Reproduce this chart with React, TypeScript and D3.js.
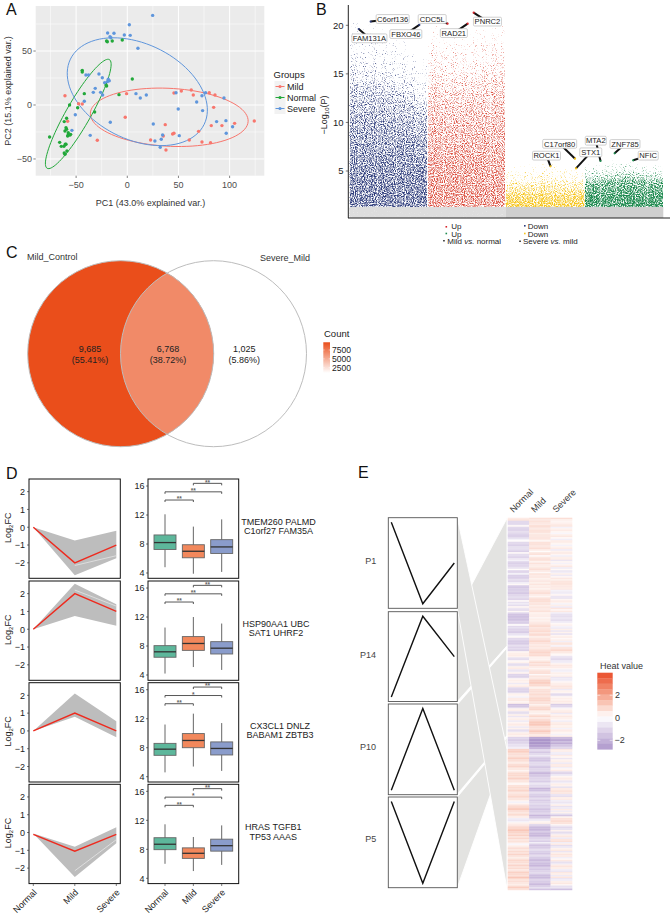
import React from "react";
import * as d3 from "d3";

const FONT = "'Liberation Sans', Arial, sans-serif";

/* ---------- A: PCA ---------- */
const pcaMild: number[][] = [[-60.9,8.6],[-58.3,-15.1],[-47.6,1.2],[-44,0.9],[-29.3,-32.7],[-2,-11.4],[-0.7,10.5],[22.8,-32.4],[35.2,-28.7],[37.1,-18.2],[44.3,-26.9],[45.6,-26.2],[45.6,11.1],[52.8,13],[60.6,-32.4],[62.5,13.9],[64.5,9.3],[69.7,-24.4],[73,-34.3],[80.1,11.4],[81.4,-34.9],[82.1,-19.1],[84.4,-2.2],[85.7,9.3],[92.5,-19.1],[104.9,-17],[124.1,-14.8],[37.8,-41.7]];
const pcaNormal: number[][] = [[-75.9,-29.6],[-66.1,-34.6],[-64.5,-38.3],[-61.9,-38.3],[-60.6,-36.4],[-59.9,-36.4],[-61.6,-44.4],[-60.9,-45.7],[-59,-42.6],[-61.6,-15.4],[-59.3,-12.3],[-59.9,-21],[-59.3,-22.5],[-60.9,-24.1],[-57.7,-25.6],[-57.7,-27.8],[-56,-27.8],[-58.3,-28.7],[-55.4,-27.2],[-56.4,0],[-48.5,-2.5],[-42,10.5],[-44,32.1],[-44,30.6],[-31.9,-6.5],[-20.2,17.6],[-20.2,59.3],[-19.5,58.6],[-14.7,59.3],[-4.9,60.2],[4.9,24.1],[-8.1,9.6],[-20.8,18.5]];
const pcaSevere: number[][] = [[24.8,83],[2,74.4],[-19.2,66.7],[-13,66.4],[-16.9,63.3],[-16,62.3],[-2.9,64.8],[2.9,64.5],[10.4,52.5],[-27.7,28.7],[-24.4,25.3],[-40.4,27.8],[-37.8,27.8],[-22.1,20.7],[-19.5,21.6],[-17.6,22.5],[-18.6,23.8],[-31.3,15.4],[-33.2,11.7],[-26.1,11.7],[-24.1,9.3],[-42,3.4],[-50.8,-9],[-54.1,-23.5],[-36.2,-28.1],[-16.6,-16],[8.5,10.5],[12.7,6.5],[18.6,9.3],[25.4,-17.6],[27,-33.3],[33.2,-31.8],[32.2,-39.2],[34.5,-27.8],[47.6,11.4],[49.8,-3.7],[50.8,-28.4],[67.8,2.8],[73.6,-5.2],[73,8.6],[76.5,11.4],[94.5,6.5],[87.3,-15.4],[96.4,-14.5],[96.7,-26.2],[102.9,-20.1]];
const pcaGroups = ["Mild", "Normal", "Severe"];
const pcaColors = ["#F8766D", "#22A83A", "#5F96DC"];
const pcaPoints = [pcaMild, pcaNormal, pcaSevere];
// centre x, centre y, semi-major, semi-minor, tilt (degrees)
const pcaEllipses = [[41, -11.4, 77.2, 28.3, 3], [-47.9, -8.3, 61.2, 11.9, -60.2], [9.8, 12.3, 72.7, 46.7, 26]];
const pcaXTicks = [-50, 0, 50, 100];
const pcaXMinor = [-75, -25, 25, 75, 125];
const pcaYTicks = [-50, 0, 50];
const pcaYMinor = [-25, 25, 75];

/* ---------- B: speckled significance strip ---------- */
const stripNames = ["blue", "red", "yellow", "green"];
const stripColors = ["#2F3D7C", "#DB4A3A", "#F6C51B", "#1E8A4F"];
// column edges along the x position and how tall each column's cloud is
const stripCols: number[][] = [
  [0, 3, 6, 9, 12, 15, 18, 21, 24.9],
  [24.9, 30, 35, 40, 45, 49.7],
  [49.7, 55, 60, 65, 70, 75],
  [75, 80, 85, 90, 95, 100],
];
const stripHeights: number[][] = [
  [1.02, 1.0, 1.02, 0.98, 0.96, 0.94, 0.9, 0.82],
  [1.0, 0.97, 0.98, 1.0, 1.02],
  [0.95, 1.0, 1.02, 1.0, 0.96],
  [0.94, 1.0, 1.02, 1.0, 0.96],
];
// [-log10 P, speckle density]
const stripDensity: number[][][] = [
  [[1.3, 0.68], [5, 0.66], [10, 0.6], [13, 0.54], [14.5, 0.47], [16, 0.41], [18, 0.35], [20, 0.27]],
  [[1.3, 0.64], [5, 0.62], [10, 0.57], [13, 0.52], [15, 0.46], [17, 0.39], [19, 0.33], [20, 0.26]],
  [[1.3, 0.72], [2.5, 0.65], [3.5, 0.54], [4.5, 0.42], [5.2, 0.35], [6, 0.22]],
  [[1.3, 0.76], [3, 0.7], [4, 0.63], [4.6, 0.5], [5.4, 0.38], [6.2, 0.22]],
];
const stripLabels = [
  { t: "FAM131A", px: 3, py: 19.62, lx: 6.4, ly: 18.66, w: 35, c: "#2F3D7C" },
  { t: "C6orf136", px: 6.8, py: 20.38, lx: 13.8, ly: 20.65, w: 33, c: "#2F3D7C" },
  { t: "FBXO46", px: 22.3, py: 20.04, lx: 18, ly: 19.1, w: 32, c: "#2F3D7C" },
  { t: "CDC5L", px: 31.3, py: 20.17, lx: 26.4, ly: 20.65, w: 28, c: "#D8232A" },
  { t: "RAD21", px: 37.7, py: 20.17, lx: 33.3, ly: 19.2, w: 27, c: "#D8232A" },
  { t: "PNRC2", px: 39.6, py: 21.3, lx: 44, ly: 20.38, w: 28, c: "#D8232A" },
  { t: "C17orf80", px: 71.9, py: 6.27, lx: 67, ly: 7.8, w: 34, c: "#F6C51B" },
  { t: "ROCK1", px: 64.1, py: 5.48, lx: 62.8, ly: 6.58, w: 28, c: "#F6C51B" },
  { t: "STX1", px: 72.2, py: 5.27, lx: 76.9, ly: 6.92, w: 22, c: "#F6C51B" },
  { t: "MTA2", px: 80, py: 6.03, lx: 78.5, ly: 8.12, w: 21, c: "#1E8A4F" },
  { t: "ZNF785", px: 84.5, py: 6.82, lx: 87.8, ly: 7.78, w: 30, c: "#1E8A4F" },
  { t: "NFIC", px: 90.4, py: 6.1, lx: 95.2, ly: 6.58, w: 20, c: "#1E8A4F" },
];
const stripYTicks = [5, 10, 15, 20];

/* ---------- C: Venn ---------- */
const vennCounts = ["9,685", "6,768", "1,025"];
const vennPercents = ["(55.41%)", "(38.72%)", "(5.86%)"];
const vennValues = [9685, 6768, 1025];
const vennNames = ["Mild_Control", "Severe_Mild"];
const countTicks = [7500, 5000, 2500];

/* ---------- D: trend and box panels ---------- */
const stageNames = ["Normal", "Mild", "Severe"];
const trendUpper = [[0, -0.75, -0.2], [0, 2.55, 1.4], [0, 2.1, 0.55], [-0.05, -0.8, 0.3]];
const trendLower = [[0, -2.7, -1.75], [0, 0.75, 0.2], [0, 0.8, -0.35], [-0.05, -2.5, -0.6]];
const trendMain = [[0, -2, -1], [0, 2, 1], [0, 1, 0], [-0.1, -1.05, -0.1]];
const trendPale = [[-2.15, -1.6], [2.2, 1.3], null, [-2.15, -0.4]];
const trendTicks = [2, 1, 0, -1, -2];
// whisker low, q1, median, q3, whisker high
const boxStats = [
  [[4.8, 7.25, 8.2, 9.25, 12.1], [3.9, 6.1, 7, 7.9, 10.4], [4.15, 6.7, 7.6, 8.6, 11.4]],
  [[4.2, 6.45, 7.2, 8.05, 10.55], [5.1, 7.4, 8.35, 9.3, 12], [4.7, 6.9, 7.7, 8.6, 11.1]],
  [[4.6, 6.95, 7.8, 8.6, 11.2], [5.4, 8, 9, 9.95, 12.7], [4.8, 7, 7.9, 8.8, 11.4]],
  [[6, 7.95, 8.7, 9.6, 11.45], [5, 6.75, 7.45, 8.2, 9.7], [5.85, 7.75, 8.5, 9.4, 11.3]],
];
const boxColors = ["#5DB79B", "#F2885C", "#8A9CCB"];
const boxTicks = [16, 12, 8, 4];
const bracketLevels = [14.07, 15.2, 16.37];
const bracketMarks = [["**", "**", "**"], ["**", "**", "**"], ["**", "*", "**"], ["**", "*", "**"]];
const geneLines = [
  ["TMEM260 PALMD", "C1orf27 FAM35A"],
  ["HSP90AA1 UBC", "SAT1 UHRF2"],
  ["CX3CL1 DNLZ", "BABAM1 ZBTB3"],
  ["HRAS TGFB1", "TP53 AAAS"],
];
const geneCentres = [278.5, 276, 280, 273.3];

/* ---------- E: patterns and heat map ---------- */
const patternNames = ["P1", "P14", "P10", "P5"];
const patternValues = [[1, 0, 0.5], [0, 1, 0.5], [0, 1, 0], [1, 0, 1]];
const hN14 = [0.6,0.9,-0.9,-1.0,-0.8,0.2,-0.9,-1.1,-1.0,-0.8,-0.9,-1.2,-1.1,-0.9,-0.3,0.1,-0.9,-1.0,-1.1,-0.8,
  -0.7,-0.9,-1.1,0.2,-0.8,-0.9,-1.0,-0.6,-0.3,-1.0,-1.1,-1.0,-0.9,-0.7,0.1,-1.0,-0.9,-0.3,-1.1,-1.2,
  -1.0,-0.8,-0.9,-0.4,0.2,-1.2,-1.3,-1.2,-1.1,-1.2,-1.3,-1.0,-0.8,-0.9,-1.0,0.2,-0.7,-0.5,-0.8,0.3,
  -0.6,-0.9,0.2,-0.9,-1.4,-1.5,-1.4,-1.5,-1.3,-1.2,-1.0,0.1,-0.9,-0.8,-1.0,-1.1,-1.2,-0.7,-0.4,0.2,
  -0.9,-1.0,-1.2,-1.3,-1.0,-0.8];
const hM14 = [0.9,0.7,0.9,0.8,0.6,1.1,0.8,0.7,0.9,1.0,0.5,0.8,0.7,0.9,0.6,0.3,0.9,1.0,0.7,0.8,
  1.0,0.6,0.1,0.8,0.9,0.2,0.7,1.0,0.8,0.4,0.9,0.6,0.5,0.8,1.0,0.7,0.2,0.9,0.6,0.8,
  0.4,0.6,0.7,0.5,0.8,0.5,0.6,0.4,0.7,0.9,1.0,0.6,0.3,0.8,1.0,1.1,0.7,0.9,0.5,0.8,
  0.6,0.7,0.9,0.4,0.5,0.6,0.3,0.5,0.4,0.6,0.7,1.0,1.1,0.8,0.9,1.2,0.7,1.1,1.0,0.5,
  0.8,1.0,1.2,0.9,0.6,0.8];
const hS14 = [1.0,0.5,0.3,0.4,0.6,0.8,-0.3,0.4,0.6,0.3,-0.2,0.5,0.7,0.2,-0.4,0.6,0.5,0.3,-0.3,0.4,
  0.6,-0.5,0.4,0.7,0.3,-0.4,0.5,0.6,-0.6,0.3,-0.3,0.4,0.7,-0.5,0.2,-0.6,-0.4,0.5,-0.5,0.3,
  0.7,0.5,0.8,0.9,0.8,0.7,0.6,0.7,-0.3,-0.5,-0.4,0.3,-0.6,-0.7,0.3,0.6,0.4,-0.3,0.5,-0.5,
  0.8,0.3,0.7,-0.4,-0.7,-0.8,-0.6,-0.7,-0.8,-0.5,0.2,0.4,-0.3,-0.5,0.5,-0.6,0.4,-0.7,0.3,0.6,
  0.2,0.5,-0.4,0.8,0.7,-0.3];
const hN10 = [-1.0,-0.9,-1.1,0.3,0.5,0.6,0.4,-0.7,-0.8,0.2,0.4,-0.8,-0.7,0.5,0.6,-0.6,-0.5,0.4,
  -1.0,-1.1,-0.9,0.3,0.5,0.4,-0.5,0.4,0.6,-0.9,-1.0,-1.1,-0.8,0.4,0.3,-0.3,0.6,0.7,0.3,0.5,
  -1.5,-1.4,-0.9,0.4,0.5,-0.8,-0.7,0.5,-0.6,0.4,0.5,-0.5,0.3,0.6,0.5,-0.5,0.4,-0.8,-0.6,0.5,0.6,0.4];
const hM10 = [0.6,0.8,1.0,1.3,1.0,1.2,0.6,0.4,0.3,0.7,1.1,0.8,1.0,0.6,0.3,0.7,0.9,1.1,
  0.2,0.8,0.6,0.9,1.3,1.5,1.4,1.2,0.7,0.4,0.9,1.0,0.8,1.1,0.9,1.0,1.2,1.3,0.9,1.0,
  0.4,0.8,1.1,1.3,0.7,0.5,0.3,0.9,1.2,0.6,1.0,1.3,1.6,1.7,1.4,1.0,0.8,1.3,1.6,1.1,0.6,0.8];
const hS10 = [0.8,1.0,1.2,0.7,0.4,0.2,-0.6,-0.8,-0.9,-0.5,-0.4,0.4,0.7,0.6,0.3,-0.4,-0.3,0.5,
  0.3,0.5,-0.6,-0.5,-0.4,0.3,0.5,0.6,0.8,0.7,-0.5,0.4,0.3,-0.9,-0.7,0.3,0.5,0.4,0.6,0.5,
  -1.2,-1.0,-0.5,0.3,0.5,0.7,-0.5,0.4,0.7,0.5,0.3,-0.4,0.5,0.7,0.4,0.5,-0.3,0.6,0.5,0.3,-0.3,0.5];
const hN5 = [-1.0,-1.1,-1.2,-1.0,-0.9,-0.7,-0.6,-0.4];
const hM5 = [-2.0,-2.3,-2.4,-2.3,-2.4,-2.2,-2.1,-1.8];
const hS5 = [-1.6,-1.9,-2.0,-1.6,-1.9,-1.4,-1.2,-1.0];
const hN1 = [1.3,1.5,1.2,1.0,0.8,1.1,1.4,1.0,0.8,0.6,1.0,1.3,0.9,0.7,0.3,0.8,1.1,1.2,0.9,1.4,
  1.0,0.8,0.5,0.2,0.9,1.1,0.9,1.3,1.0,0.7,0.9,1.2,1.0,0.8,0.4,-0.3,0.3,0.9,1.1,1.5,
  1.6,1.0,0.7,1.1,0.9,0.5,-0.4,-0.6,-0.3,0.4,0.6,1.0,1.2,1.5,1.7,1.3,1.0,1.4,0.8,1.2,
  0.7,0.9,0.6,-0.2,0.4,0.8,1.0,0.7,1.1,0.9,1.3,0.8,0.5,0.9,1.2,1.0,0.7,1.3,0.9,1.1,
  0.6,1.0,1.4,1.1,0.9,1.7,1.2,0.8,1.0,0.7,0.5,1.1,1.5,0.9];
const hM1 = [-0.9,-1.0,-1.3,-0.9,-0.5,-1.0,-1.3,-1.4,-1.1,-0.9,-0.8,-1.2,-1.3,-1.0,-0.9,-1.5,-1.7,-1.3,-1.2,-1.0,
  -0.9,-1.2,-0.8,-0.6,-0.9,-1.0,-1.7,-1.5,-1.0,-0.8,-1.1,-1.3,-1.0,-0.9,-1.2,-1.0,-0.8,-1.1,-1.0,-1.2,
  -1.4,-1.2,-1.0,-1.1,-1.7,-1.3,-0.9,-0.5,0.3,0.5,-0.9,-1.3,-1.6,-1.7,-1.5,-1.3,-1.6,-1.7,-1.4,-1.0,
  -0.8,-1.2,-0.4,-1.1,-1.4,-1.2,-1.0,-0.8,-1.1,-1.3,-1.0,-0.9,-1.2,-1.5,-1.6,-1.3,-1.5,-1.7,-1.4,-1.1,
  -1.3,-1.0,-0.8,-1.2,-1.5,-1.6,-1.3,-1.0,-1.2,-1.4,-1.6,-1.1,-0.7,-1.4];
const hS1 = [0.7,0.5,-0.4,-0.5,0.6,0.3,-0.6,0.4,0.5,-0.5,0.6,0.7,-0.4,0.3,0.6,-0.9,-1.0,-0.5,0.3,0.6,
  0.5,-0.6,-0.4,0.5,0.4,-0.7,0.6,0.8,0.9,0.7,-0.6,-0.8,0.5,0.6,-0.4,-0.6,-0.4,0.5,-0.7,-0.5,
  0.6,-0.5,0.4,-0.8,-1.3,0.4,0.9,1.0,1.1,0.9,0.3,-0.6,-0.9,-0.7,0.4,-0.8,-0.6,0.5,0.7,-0.5,
  0.8,1.0,-0.4,0.6,-0.8,-0.5,0.4,0.7,-0.6,0.5,0.8,0.6,-0.4,0.3,0.7,-0.7,-0.5,0.6,0.8,0.5,
  -0.4,-0.6,0.7,0.5,-0.5,0.8,-0.6,-0.4,0.5,0.7,0.3,-0.7,-0.6,-1.5];
const heatNormal = [hN14, hN10, hN5, hN1];
const heatMild = [hM14, hM10, hM5, hM1];
const heatSevere = [hS14, hS10, hS5, hS1];
const heatLegendSteps = [3.8,3.3,2.8,2.3,1.8,1.3,0.8,0.3,-0.2,-0.7,-1.2,-1.7,-2.2,-2.6];
const heatTicks = [2, 0, -2];
// which heat block each pattern box feeds
const patternToBlock = [3, 0, 1, 2];

const T = (p: any) => <text fontFamily={FONT} fill="#222" {...p} />;

function ellipsePath(e: number[], x: any, y: any) {
  const [cx, cy, a, b, deg] = e;
  const unit = x(1) - x(0);
  const t = (deg * Math.PI) / 180;
  const pts: [number, number][] = d3.range(0, 361, 4).map((d) => {
    const r = (d * Math.PI) / 180;
    const u = a * unit * Math.cos(r);
    const v = b * unit * Math.sin(r);
    return [x(cx) + u * Math.cos(t) - v * Math.sin(t), y(cy) + u * Math.sin(t) + v * Math.cos(t)];
  });
  return d3.line()(pts) as string;
}

function PanelA() {
  const x = d3.scaleLinear().domain([-89.5, 133.9]).range([35.7, 264.3]);
  const y = d3.scaleLinear().domain([-65.5, 91.7]).range([175.7, 6]);
  return (
    <g>
      <rect x={35.7} y={6} width={228.6} height={169.7} fill="#EBEBEB" />
      {pcaXMinor.filter((d) => x(d) < 264).map((d) => <line key={d} x1={x(d)} x2={x(d)} y1={6} y2={175.7} stroke="#fff" strokeWidth={0.5} />)}
      {pcaYMinor.map((d) => <line key={d} y1={y(d)} y2={y(d)} x1={35.7} x2={264.3} stroke="#fff" strokeWidth={0.5} />)}
      {pcaXTicks.map((d) => <line key={d} x1={x(d)} x2={x(d)} y1={6} y2={175.7} stroke="#fff" strokeWidth={1} />)}
      {pcaYTicks.map((d) => <line key={d} y1={y(d)} y2={y(d)} x1={35.7} x2={264.3} stroke="#fff" strokeWidth={1} />)}
      {pcaEllipses.map((e, i) => <path key={i} d={ellipsePath(e, x, y)} fill="none" stroke={pcaColors[i]} strokeWidth={1} />)}
      {pcaPoints.map((ps, i) => ps.map((p, j) => <circle key={i + "-" + j} cx={x(p[0])} cy={y(p[1])} r={1.7} fill={pcaColors[i]} />))}
      {pcaXTicks.map((d) => (
        <g key={d}>
          <line x1={x(d)} x2={x(d)} y1={175.7} y2={178} stroke="#333" strokeWidth={0.6} />
          <T x={x(d)} y={188} fontSize={9} textAnchor="middle" fill="#4d4d4d">{d < 0 ? "\u2212" + -d : d}</T>
        </g>
      ))}
      {pcaYTicks.map((d) => (
        <g key={d}>
          <line x1={33.4} x2={35.7} y1={y(d)} y2={y(d)} stroke="#333" strokeWidth={0.6} />
          <T x={32} y={y(d) + 3.2} fontSize={9} textAnchor="end" fill="#4d4d4d">{d < 0 ? "\u2212" + -d : d}</T>
        </g>
      ))}
      <T x={150.5} y={205.5} fontSize={9} textAnchor="middle" fill="#333">PC1 (43.0% explained var.)</T>
      <T transform="translate(11,91) rotate(-90)" fontSize={9} textAnchor="middle" fill="#333">PC2 (15.1% explained var.)</T>
      <T x={273.5} y={78} fontSize={9.5} fill="#222">Groups</T>
      {pcaGroups.map((g, i) => (
        <g key={g}>
          <rect x={274.5} y={81 + i * 11} width={11} height={11} fill="#F2F2F2" />
          <line x1={275.5} x2={284.5} y1={86.5 + i * 11} y2={86.5 + i * 11} stroke={pcaColors[i]} strokeWidth={1} />
          <circle cx={280} cy={86.5 + i * 11} r={1.6} fill={pcaColors[i]} />
          <T x={287} y={89.6 + i * 11} fontSize={9} fill="#222">{g}</T>
        </g>
      ))}
    </g>
  );
}

function speckFilter(id: string, color: string, seed: number, y0: number, h: number, slope: number) {
  return (
    <filter key={id} id={id} filterUnits="userSpaceOnUse" x={340} y={y0} width={330} height={h} colorInterpolationFilters="sRGB">
      <feTurbulence type="fractalNoise" baseFrequency={0.9} numOctaves={2} seed={seed} result="n" />
      <feColorMatrix in="n" type="matrix" values="0 0 0 0 0  0 0 0 0 0  0 0 0 0 0  1 0 0 0 0" result="na" />
      <feComposite in="SourceAlpha" in2="na" operator="arithmetic" k1={0} k2={1} k3={1} k4={-1} result="sum" />
      <feComponentTransfer in="sum" result="th"><feFuncA type="linear" slope={slope} /></feComponentTransfer>
      <feFlood floodColor={color} result="fl" />
      <feComposite in="fl" in2="th" operator="in" />
    </filter>
  );
}

function PanelB() {
  const x = d3.scaleLinear().domain([0, 100]).range([349.3, 663.3]);
  const y = d3.scaleLinear().domain([5, 20]).range([171, 25.3]);
  const baseY = 218;
  const floorY = y(1.3);
  return (
    <g>
      <defs>
        {stripNames.map((n, i) => speckFilter("speck-" + n, stripColors[i], 3 + i * 7, 10, 210, 3))}
        {speckFilter("speck-grey", "#CFCFCF", 11, 200, 20, 3)}
        {stripHeights.map((hs, i) => hs.map((h, k) => {
          const stops = stripDensity[i];
          const lo = stops[0][0];
          const hi = stops[stops.length - 1][0];
          return (
            <linearGradient key={i + "-" + k} id={`grad-${i}-${k}`} gradientUnits="userSpaceOnUse" x1={0} x2={0} y1={y(lo)} y2={y(lo + (hi - lo) * h)}>
              {stops.map((s) => <stop key={s[0]} offset={(s[0] - lo) / (hi - lo)} stopColor="#000" stopOpacity={s[1]} />)}
            </linearGradient>
          );
        }))}
      </defs>
      {stripNames.map((n, i) => {
        const stops = stripDensity[i];
        const lo = stops[0][0];
        const hi = stops[stops.length - 1][0];
        return (
          <g key={n} filter={`url(#speck-${n})`}>
            {stripHeights[i].map((h, k) => {
              const x0 = x(stripCols[i][k]);
              const x1 = x(stripCols[i][k + 1]);
              const top = y(lo + (hi - lo) * h);
              return <rect key={k} x={x0} width={x1 - x0} y={top} height={floorY - top} fill={`url(#grad-${i}-${k})`} />;
            })}
          </g>
        );
      })}
      <rect x={x(0)} y={floorY} width={x(49.7) - x(0)} height={baseY - floorY} fill="#EFEFEF" />
      <rect x={x(0)} y={floorY} width={x(49.7) - x(0)} height={baseY - floorY} fill="#000" opacity={0.55} filter="url(#speck-grey)" />
      <rect x={x(49.7)} y={floorY} width={x(100) - x(49.7)} height={baseY - floorY} fill="#CFCFCF" />
      <line x1={348.3} x2={348.3} y1={5} y2={baseY} stroke="#222" strokeWidth={1} />
      <line x1={348} x2={670} y1={baseY} y2={baseY} stroke="#222" strokeWidth={1} />
      {stripYTicks.map((d) => (
        <g key={d}>
          <line x1={345.8} x2={348.3} y1={y(d)} y2={y(d)} stroke="#222" strokeWidth={0.6} />
          <T x={343.5} y={y(d) + 3.3} fontSize={9.5} textAnchor="end">{d}</T>
        </g>
      ))}
      <T transform="translate(327,115) rotate(-90)" fontSize={9} textAnchor="middle">
        {"\u2212Log"}<tspan fontSize={6} dy={1.5}>10</tspan><tspan dy={-1.5}>(P)</tspan>
      </T>
      {stripLabels.map((l) => (
        <line key={l.t} x1={x(l.lx)} y1={y(l.ly)} x2={x(l.px)} y2={y(l.py)} stroke="#111" strokeWidth={2} />
      ))}
      {stripLabels.map((l) => <circle key={l.t} cx={x(l.px)} cy={y(l.py)} r={1.1} fill={l.c} />)}
      {stripLabels.map((l) => (
        <g key={l.t}>
          <rect x={x(l.lx) - l.w / 2} y={y(l.ly) - 4.4} width={l.w} height={8.8} rx={1.2} fill="#fff" stroke="#BBB" strokeWidth={0.7} />
          <T x={x(l.lx)} y={y(l.ly) + 2.8} fontSize={7.6} textAnchor="middle" fill="#222">{l.t}</T>
        </g>
      ))}
      <rect x={445.5} y={226} width={1.6} height={1.6} fill="#D8232A" />
      <T x={451.3} y={229} fontSize={8}>Up</T>
      <rect x={445.5} y={232.7} width={1.6} height={1.6} fill="#1E8A4F" />
      <T x={451.3} y={236.6} fontSize={8}>Up</T>
      <rect x={443.2} y={240} width={1.5} height={1.5} fill="#222" />
      <T x={447.3} y={244.2} fontSize={8}>Mild <tspan fontStyle="italic">vs.</tspan> normal</T>
      <rect x={524} y={225} width={1.6} height={1.6} fill="#2F3D7C" />
      <T x={527.7} y={229} fontSize={8}>Down</T>
      <rect x={524} y={232.7} width={1.6} height={1.6} fill="#F6C51B" />
      <T x={527.7} y={236.6} fontSize={8}>Down</T>
      <rect x={519.3} y={240.5} width={1.5} height={1.5} fill="#222" />
      <T x={523} y={244.2} fontSize={8}>Severe <tspan fontStyle="italic">vs.</tspan> mild</T>
    </g>
  );
}

function PanelC() {
  const count = d3.scaleLinear<string>().domain([1025, 9685]).range(["#FFFFFF", "#EA4E1B"]);
  const barY = d3.scaleLinear().domain([2500, 7500]).range([367.7, 350]);
  const r = 93;
  const cy = 353.7;
  const cx = [120.7, 213.5];
  const labelX = [90, 168, 244.3];
  return (
    <g>
      <defs>
        <clipPath id="venn-left"><circle cx={cx[0]} cy={cy} r={r} /></clipPath>
        <linearGradient id="count-grad" x1={0} x2={0} y1={0} y2={1}>
          <stop offset={0} stopColor={count(9685)} />
          <stop offset={1} stopColor={count(1025)} />
        </linearGradient>
      </defs>
      <circle cx={cx[0]} cy={cy} r={r} fill={count(vennValues[0])} />
      <circle cx={cx[1]} cy={cy} r={r} fill={count(vennValues[1])} clipPath="url(#venn-left)" />
      <circle cx={cx[0]} cy={cy} r={r} fill="none" stroke="#BDBDBD" strokeWidth={1} />
      <circle cx={cx[1]} cy={cy} r={r} fill="none" stroke="#BDBDBD" strokeWidth={1} />
      {vennCounts.map((c, i) => (
        <g key={c}>
          <T x={labelX[i]} y={352} fontSize={9} textAnchor="middle">{c}</T>
          <T x={labelX[i]} y={363} fontSize={9} textAnchor="middle">{vennPercents[i]}</T>
        </g>
      ))}
      <T x={27} y={260} fontSize={9} fill="#333">{vennNames[0]}</T>
      <T x={260} y={261} fontSize={9} fill="#333">{vennNames[1]}</T>
      <T x={324} y={336.5} fontSize={9.5}>Count</T>
      <rect x={323.3} y={barY(9685)} width={6.7} height={barY(1025) - barY(9685)} fill="url(#count-grad)" />
      {countTicks.map((d) => (
        <g key={d}>
          <line x1={323.3} x2={324.6} y1={barY(d)} y2={barY(d)} stroke="#fff" strokeWidth={0.5} />
          <line x1={328.7} x2={330} y1={barY(d)} y2={barY(d)} stroke="#fff" strokeWidth={0.5} />
          <T x={332} y={barY(d) + 3.2} fontSize={8.6}>{d}</T>
        </g>
      ))}
    </g>
  );
}

const rowTops = [479, 581, 682.7, 784.3];
const rowH = 99.3;

function PanelD() {
  const xL = d3.scalePoint<string>().domain(stageNames).range([33.3, 116.3]);
  const xR = d3.scalePoint<string>().domain(stageNames).range([165, 221.7]);
  const yL = d3.scaleLinear().domain([-2.87, 2.71]).range([rowH, 0]);
  const yR = d3.scaleLinear().domain([3.27, 16.97]).range([rowH, 0]);
  const bw = 22;
  const lineFn = d3.line<number>().x((_, i) => xL(stageNames[i]) as number).y((d) => yL(d));
  const pairs = [[0, 1], [0, 2], [1, 2]];
  return (
    <g>
      {rowTops.map((top, r) => {
        const upper = trendUpper[r];
        const lower = trendLower[r];
        const band = d3.area<number>().x((_, i) => xL(stageNames[i]) as number).y0((_, i) => yL(lower[i])).y1((d) => yL(d))(upper) as string;
        const pale = trendPale[r];
        return (
          <g key={r} transform={`translate(0,${top})`}>
            <path d={band} fill="#BDBDBD" />
            {pale && <line x1={xL("Mild")} x2={xL("Severe")} y1={yL(pale[0])} y2={yL(pale[1])} stroke="#E4E4E4" strokeWidth={0.8} />}
            <path d={lineFn(trendMain[r]) as string} fill="none" stroke="#EE2A1E" strokeWidth={1.4} />
            <rect x={29} y={0} width={91.3} height={rowH} fill="none" stroke="#111" strokeWidth={1} />
            {trendTicks.map((t) => (
              <g key={t}>
                <line x1={27} x2={29} y1={yL(t)} y2={yL(t)} stroke="#222" strokeWidth={0.6} />
                <T x={25} y={yL(t) + 3.3} fontSize={9} textAnchor="end">{t < 0 ? "\u2212" + -t : t}</T>
              </g>
            ))}
            <T transform={`translate(11,${yL(0) + 0.5}) rotate(-90)`} fontSize={9} textAnchor="middle">
              Log<tspan fontSize={6} dy={1.5}>2</tspan><tspan dy={-1.5}>FC</tspan>
            </T>
            {boxStats[r].map((s, i) => {
              const cx = xR(stageNames[i]) as number;
              return (
                <g key={i}>
                  <line x1={cx} x2={cx} y1={yR(s[0])} y2={yR(s[4])} stroke="#666" strokeWidth={1} />
                  <rect x={cx - bw / 2} y={yR(s[3])} width={bw} height={yR(s[1]) - yR(s[3])} fill={boxColors[i]} stroke="#666" strokeWidth={0.9} />
                  <line x1={cx - bw / 2} x2={cx + bw / 2} y1={yR(s[2])} y2={yR(s[2])} stroke="#333" strokeWidth={1.3} />
                </g>
              );
            })}
            {pairs.map((p, i) => {
              const x1 = xR(stageNames[p[0]]) as number;
              const x2 = xR(stageNames[p[1]]) as number;
              const yy = yR(bracketLevels[i]);
              const m = bracketMarks[r][i];
              return (
                <g key={i}>
                  <path d={`M${x1},${yy + 2}V${yy}H${x2}V${yy + 2}`} fill="none" stroke="#444" strokeWidth={0.9} />
                  <T x={(x1 + x2) / 2} y={yy + 1.2} fontSize={6.5} fontWeight="bold" textAnchor="middle" fill="#666">{m}</T>
                </g>
              );
            })}
            <rect x={148} y={0} width={90.7} height={rowH} fill="none" stroke="#111" strokeWidth={1} />
            {boxTicks.map((t) => (
              <g key={t}>
                <line x1={146} x2={148} y1={yR(t)} y2={yR(t)} stroke="#222" strokeWidth={0.6} />
                <T x={144.5} y={yR(t) + 3.3} fontSize={9} textAnchor="end">{t}</T>
              </g>
            ))}
            {geneLines[r].map((g, i) => (
              <T key={g} x={geneCentres[r]} y={46 + i * 9.4} fontSize={9} textAnchor="middle">{g}</T>
            ))}
          </g>
        );
      })}
      {stageNames.map((s) => (
        <g key={s}>
          <T transform={`translate(${(xL(s) as number) + 4},893) rotate(-45)`} fontSize={9} textAnchor="end">{s}</T>
          <T transform={`translate(${(xR(s) as number) + 4},893) rotate(-45)`} fontSize={9} textAnchor="end">{s}</T>
          <line x1={xL(s)} x2={xL(s)} y1={884} y2={886} stroke="#222" strokeWidth={0.6} />
          <line x1={xR(s)} x2={xR(s)} y1={884} y2={886} stroke="#222" strokeWidth={0.6} />
        </g>
      ))}
    </g>
  );
}

function PanelE() {
  const boxes = [[517.7, 608.3], [611.7, 701.5], [704, 794.7], [797, 887.7]];
  const labelY = [564, 658, 750, 842];
  const labelX = [370.7, 368, 368, 370.7];
  const xP = d3.scalePoint<number>().domain([0, 1, 2]).range([391.3, 454.3]);
  const blockSizes = heatNormal.map((b) => b.length);
  const starts = blockSizes.map((_, i) => d3.sum(blockSizes.slice(0, i)));
  const total = d3.sum(blockSizes);
  const yRow = d3.scaleLinear().domain([0, total]).range([517.7, 890]);
  const xCol = d3.scaleBand<number>().domain([0, 1, 2]).range([507.7, 572]);
  const color = d3.scaleLinear<string>().domain([-2.8, -2, 0, 2, 4]).range(["#AE98CC", "#C9B8DC", "#FFFFFF", "#F5A48C", "#EA4E2B"]);
  // the image's thin rows wash the warm cells out and keep the cool ones
  const cellColor = (v: number) => color(v > 0 ? v * 0.72 : v * 1.2);
  const yLeg = d3.scaleLinear().domain([4, -2.8]).range([672.7, 749.3]);
  const stepH = (yLeg(-2.8) - yLeg(4)) / heatLegendSteps.length;
  const columns = [heatNormal, heatMild, heatSevere];
  const ribbonOrder = [1, 2, 3, 0];
  return (
    <g>
      {ribbonOrder.map((p) => {
        const b = patternToBlock[p];
        const h0 = yRow(starts[b]);
        const h1 = yRow(starts[b] + blockSizes[b]);
        return <path key={p} d={`M457.3,${boxes[p][0]}L507,${h0 + 0.6}V${h1 - 1}L457.3,${boxes[p][1]}Z`} fill="#E3E3E1" stroke="#fff" strokeWidth={p === 2 ? 1.4 : 0.9} />;
      })}
      {patternNames.map((n, i) => {
        const y = d3.scaleLinear().domain([0, 1]).range([boxes[i][1] - 4.5, boxes[i][0] + 4.5]);
        const line = d3.line<number>().x((_, k) => xP(k) as number).y((d) => y(d));
        return (
          <g key={n}>
            <rect x={388.3} y={boxes[i][0]} width={69} height={boxes[i][1] - boxes[i][0]} fill="#fff" stroke="#555" strokeWidth={0.9} />
            <path d={line(patternValues[i]) as string} fill="none" stroke="#111" strokeWidth={1.4} />
            <T x={labelX[i]} y={labelY[i]} fontSize={9} textAnchor="middle" fill="#444">{n}</T>
          </g>
        );
      })}
      {columns.map((col, c) => col.map((block, b) => block.map((v, r) => (
        <rect key={`${c}-${b}-${r}`} x={xCol(c)} y={yRow(starts[b] + r)} width={xCol.bandwidth() + 0.3} height={yRow(1) - yRow(0) + 0.2} fill={cellColor(v)} />
      ))))}
      {stageNames.map((s, i) => (
        <T key={s} transform={`translate(${xCol(i)! + xCol.bandwidth() / 2 - 5},513) rotate(-45)`} fontSize={9} fill="#333">{s}</T>
      ))}
      <T x={600} y={668.5} fontSize={9} fill="#333">Heat value</T>
      {heatLegendSteps.map((v, i) => (
        <rect key={i} x={597.3} y={yLeg(4) + i * stepH} width={15.4} height={stepH + 0.3} fill={color(v)} />
      ))}
      {heatTicks.map((t) => (
        <g key={t}>
          <line x1={597.3} x2={600.3} y1={yLeg(t)} y2={yLeg(t)} stroke="#fff" strokeWidth={0.6} />
          <line x1={609.7} x2={612.7} y1={yLeg(t)} y2={yLeg(t)} stroke="#fff" strokeWidth={0.6} />
          <T x={t < 0 ? 614.5 : 615} y={yLeg(t) + 3.2} fontSize={9} fill="#333">{t < 0 ? "\u2212" + -t : t}</T>
        </g>
      ))}
    </g>
  );
}

const panelLetters = [["A", 6, 15], ["B", 316, 15], ["C", 6, 258], ["D", 6, 479], ["E", 358, 478]];

export default function App() {
  return (
    <svg width={670} height={918} viewBox="0 0 670 918" style={{ position: "absolute", left: 0, top: 0, background: "#fff" }} fontFamily={FONT}>
      <PanelA />
      <PanelB />
      <PanelC />
      <PanelD />
      <PanelE />
      {panelLetters.map((l) => <T key={l[0] as string} x={l[1]} y={l[2]} fontSize={16} fill="#111">{l[0]}</T>)}
    </svg>
  );
}
